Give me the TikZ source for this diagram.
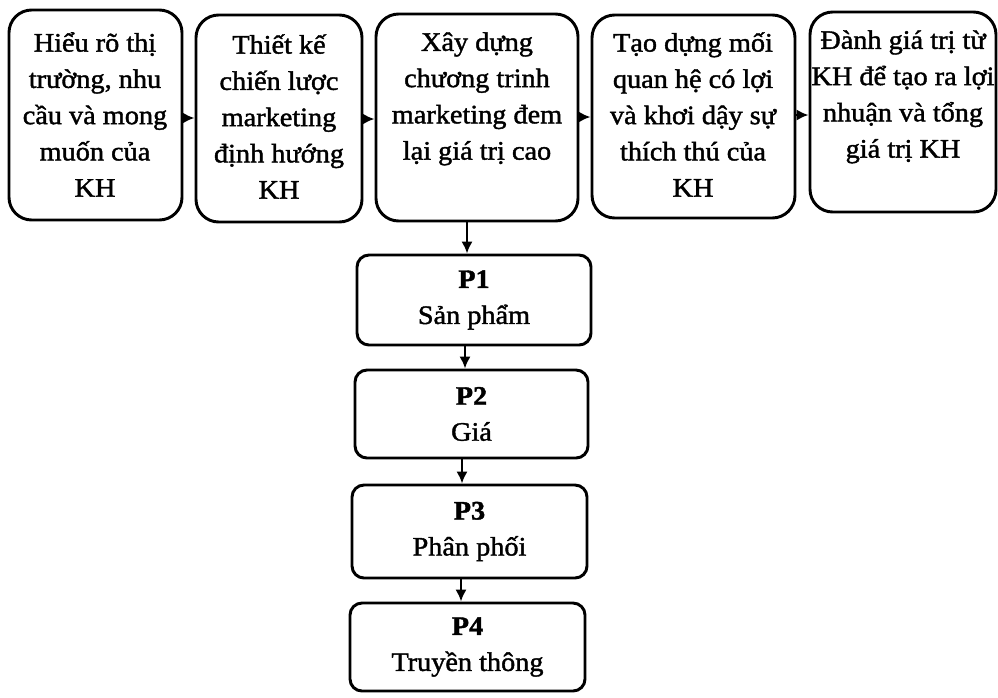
\documentclass[tikz,border=0pt]{standalone}
\usepackage{fontspec}
\setmainfont{Liberation Serif}[FakeStretch=1.06, FakeBold=1.5]
\usetikzlibrary{arrows.meta,fit}

\begin{document}
\begin{tikzpicture}[x=0.75pt, y=-0.75pt,
  stage/.style={draw, line width=2.2pt, rounded corners=17pt, inner sep=0pt},
  pbox/.style={draw, line width=2.2pt, rounded corners=9pt, inner sep=0pt},
  txt/.style={align=center, inner sep=0pt, anchor=north,
              font=\fontsize{20}{27.2}\selectfont},
  ptxt/.style={align=center, inner sep=0pt,
              font=\fontsize{20}{27}\selectfont},
  flow/.style={line width=1.8pt, -{Latex[length=9pt, width=8.5pt]}}]
\useasboundingbox (0,0) rectangle (998,697);

% upper row: the five stages
\node[stage, fit={(9,10) (182,220)}]   (b1) {};
\node[stage, fit={(196,15) (362,222)}] (b2) {};
\node[stage, fit={(376,14) (578,221)}] (b3) {};
\node[stage, fit={(592,15) (795,218)}] (b4) {};
\node[stage, fit={(810,12) (996,212)}] (b5) {};

\node[txt] (t1) at (95,32)  {Hiểu rõ thị\\trường, nhu\\cầu và mong\\muốn của\\KH};
\node[txt] (t2) at (279,34) {Thiết kế\\chiến lược\\marketing\\định hướng\\KH};
\node[txt] (t3) at (477,32) {Xây dựng\\chương trinh\\marketing đem\\lại giá trị cao};
\node[txt] (t4) at (693,32) {Tạo dựng mối\\quan hệ có lợi\\và khơi dậy sự\\thích thú của\\KH};
\node[txt] (t5) at (903,30) {Đành giá trị từ\\KH để tạo ra lợi\\nhuận và tổng\\giá trị KH};

% lower column: the four P's
\node[pbox, fit={(357,255) (591,345)}] (p1) {};
\node[pbox, fit={(355,370) (588,458)}] (p2) {};
\node[pbox, fit={(352,485) (587,578)}] (p3) {};
\node[pbox, fit={(350,603) (585,691)}] (p4) {};

\node[ptxt] (q1) at (p1.center) {\textbf{P1}\\Sản phẩm};
\node[ptxt] (q2) at (p2.center) {\textbf{P2}\\Giá};
\node[ptxt] (q3) at (p3.center) {\textbf{P3}\\Phân phối};
\node[ptxt] (q4) at (p4.center) {\textbf{P4}\\Truyền thông};

% connectors
\draw[flow] (b1.east |- 0,118) -- (b2.west |- 0,118);
\draw[flow] (b2.east |- 0,119) -- (b3.west |- 0,119);
\draw[flow] (b3.east |- 0,117) -- (b4.west |- 0,117);
\draw[flow] (b4.east |- 0,115) -- (b5.west |- 0,115);

\draw[flow] (b3.south -| 467,0) -- (p1.north -| 467,0);
\draw[flow] (p1.south -| 465,0) -- (p2.north -| 465,0);
\draw[flow] (p2.south -| 462,0) -- (p3.north -| 462,0);
\draw[flow] (p3.south -| 461,0) -- (p4.north -| 461,0);
\end{tikzpicture}
\end{document}
